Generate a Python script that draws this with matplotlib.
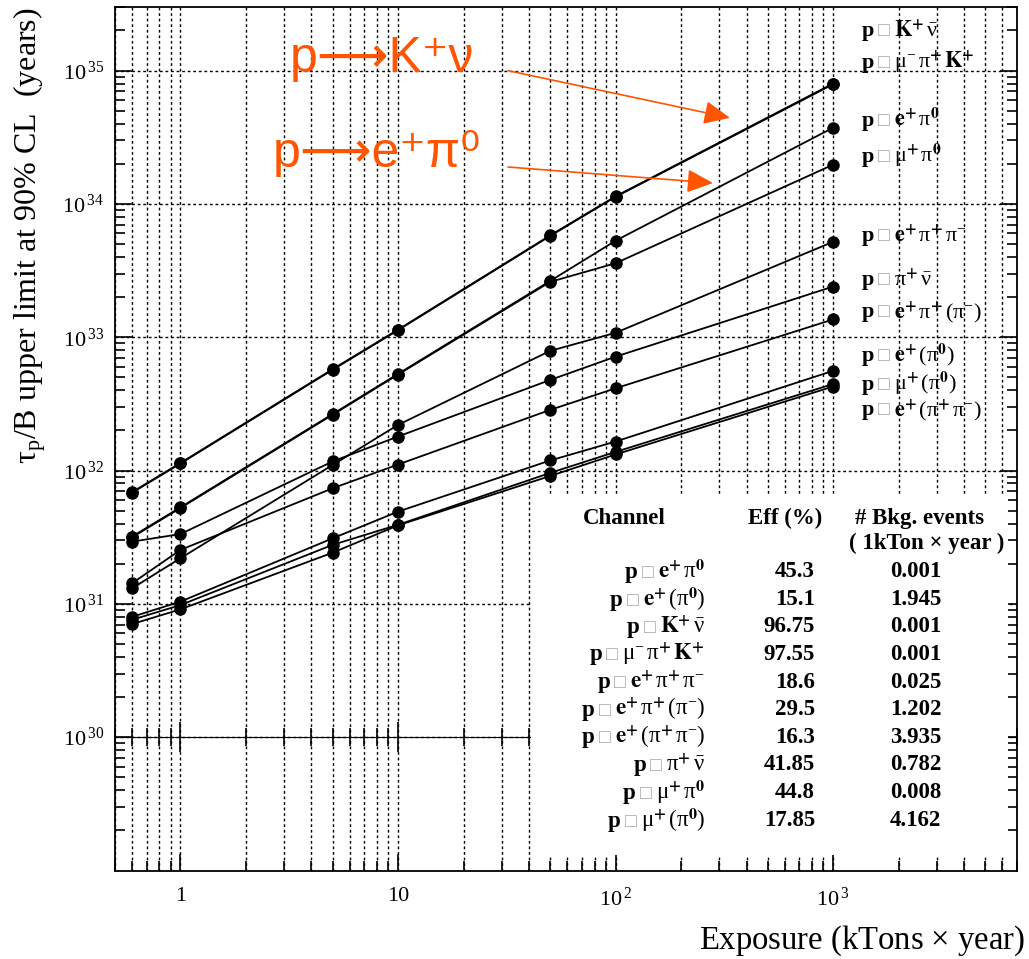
import numpy as np
import matplotlib
matplotlib.use('Agg')
import matplotlib.pyplot as plt
from matplotlib.ticker import LogLocator, NullFormatter
from matplotlib.offsetbox import TextArea, HPacker, AnnotationBbox
from matplotlib.patches import Rectangle

plt.rcParams['font.family'] = ['Liberation Serif', 'DejaVu Serif']
plt.rcParams['mathtext.fontset'] = 'stix'
plt.rcParams['mathtext.default'] = 'regular'  # greek letters upright, like the original

# exposure in kTon x year
exposure = [0.6, 1, 5, 10, 50, 100, 1000]

# 90% CL lifetime limits (years)
k_nubar = [6.83e31, 1.13e32, 5.70e32, 1.13e33, 5.75e33, 1.13e34, 7.90e34]
mu_pi_k = [6.90e31, 1.14e32, 5.75e32, 1.14e33, 5.80e33, 1.14e34, 8.00e34]
e_pi0 = [3.20e31, 5.30e31, 2.65e32, 5.31e32, 2.64e33, 5.30e33, 3.73e34]
mu_pi0 = [3.16e31, 5.24e31, 2.62e32, 5.25e32, 2.60e33, 3.59e33, 1.97e34]
e_pi_pi = [1.31e31, 2.20e31, 1.10e32, 2.20e32, 7.90e32, 1.08e33, 5.20e33]
pi_nubar = [2.93e31, 3.34e31, 1.17e32, 1.80e32, 4.78e32, 7.15e32, 2.40e33]
e_pi_xpi = [1.43e31, 2.54e31, 7.36e31, 1.11e32, 2.85e32, 4.14e32, 1.36e33]
e_xpi0 = [8.00e30, 1.04e31, 3.10e31, 4.92e31, 1.19e32, 1.65e32, 5.60e32]
mu_xpi0 = [7.60e30, 9.80e30, 2.77e31, 3.92e31, 9.60e31, 1.38e32, 4.46e32]
e_xpipi = [7.06e30, 9.10e30, 2.42e31, 3.88e31, 9.10e31, 1.32e32, 4.27e32]

# decay products written after "p -> "
name_k_nubar = r'$\mathbf{K}^{\mathbf{+}}\,\bar{\nu}$'
name_mu_pi_k = r'$\mu^{-}\,\pi^{\mathbf{+}}\,\mathbf{K}^{\mathbf{+}}$'
name_e_pi0 = r'$\mathbf{e}^{\mathbf{+}}\,\pi^{\mathbf{0}}$'
name_mu_pi0 = r'$\mu^{\mathbf{+}}\,\pi^{\mathbf{0}}$'
name_e_pi_pi = r'$\mathbf{e}^{\mathbf{+}}\,\pi^{\mathbf{+}}\,\pi^{-}$'
name_pi_nubar = r'$\pi^{\mathbf{+}}\,\bar{\nu}$'
name_e_pi_xpi = r'$\mathbf{e}^{\mathbf{+}}\,\pi^{\mathbf{+}}\,(\pi^{-})$'
name_e_xpi0 = r'$\mathbf{e}^{\mathbf{+}}\,(\pi^{\mathbf{0}})$'
name_mu_xpi0 = r'$\mu^{\mathbf{+}}\,(\pi^{\mathbf{0}})$'
name_e_xpipi = r'$\mathbf{e}^{\mathbf{+}}\,(\pi^{\mathbf{+}}\,\pi^{-})$'

series = [k_nubar, mu_pi_k, e_pi0, mu_pi0, e_pi_pi, pi_nubar, e_pi_xpi, e_xpi0, mu_xpi0, e_xpipi]
series_names = [name_k_nubar, name_mu_pi_k, name_e_pi0, name_mu_pi0, name_e_pi_pi,
                name_pi_nubar, name_e_pi_xpi, name_e_xpi0, name_mu_xpi0, name_e_xpipi]
# where the right-hand labels sit (y, years)
label_y = [2.02e35, 1.16e35, 4.3e34, 2.3e34, 5.8e33, 2.75e33, 1.55e33, 7.4e32, 4.5e32, 2.85e32]

# efficiency / background table
table_names = [name_e_pi0, name_e_xpi0, name_k_nubar, name_mu_pi_k, name_e_pi_pi,
               name_e_pi_xpi, name_e_xpipi, name_pi_nubar, name_mu_pi0, name_mu_xpi0]
table_eff = [45.3, 15.1, 96.75, 97.55, 18.6, 29.5, 16.3, 41.85, 44.8, 17.85]
table_bkg = [0.001, 1.945, 0.001, 0.001, 0.025, 1.202, 3.935, 0.782, 0.008, 4.162]

naranja = '#ff5400'

fig = plt.figure(figsize=(10.29, 9.59), dpi=100)
ax = fig.add_axes([115 / 1029, 1 - 870.5 / 959, 902 / 1029, 863.5 / 959])
ax.set_xscale('log')
ax.set_yscale('log')
ax.set_xlim(0.5, 7000)
ax.set_ylim(1e29, 3e35)

for s in series:
    ax.plot(exposure, s, color='black', lw=1.3, marker='o', ms=8, zorder=3)

# ticks and grid
ax.set_xticks([1, 10, 100, 1000], ['1', '10', r'$10^{\,2}$', r'$10^{\,3}$'])
ax.set_yticks([10.0 ** k for k in range(30, 36)],
              [r'$10^{\,%d}$' % k for k in range(30, 36)])
ax.xaxis.set_minor_locator(LogLocator(subs=np.arange(2, 10), numticks=50))
ax.yaxis.set_minor_locator(LogLocator(subs=np.arange(2, 10), numticks=50))
ax.xaxis.set_minor_formatter(NullFormatter())
ax.yaxis.set_minor_formatter(NullFormatter())
ax.tick_params(which='both', direction='in', right=True, top=False, labelsize=16, width=1.2)
ax.tick_params(which='major', length=12)
ax.tick_params(which='minor', length=7.5)
ax.tick_params(axis='x', pad=12)
ax.tick_params(axis='y', pad=8)
ax.grid(which='both', axis='x', color='black', ls=(0, (2, 2)), lw=1.0)
ax.grid(which='major', axis='y', color='black', ls=(0, (2, 2)), lw=1.0)
for sp in ax.spines.values():
    sp.set_linewidth(1.3)

# solid line at 1e30 with its own ticks
sec = ax.secondary_xaxis(1e30, transform=ax.transData)
sec.tick_params(which='both', direction='inout', labelbottom=False, labeltop=False, width=1.2)
sec.tick_params(which='major', length=22)
sec.tick_params(which='minor', length=13)
sec.xaxis.set_minor_locator(LogLocator(subs=np.arange(2, 10), numticks=50))
sec.xaxis.set_minor_formatter(NullFormatter())
sec.spines['bottom'].set_linewidth(1.0)

ax.set_ylabel(r'$\tau_{p}$/B upper limit at 90% CL  (years)', fontsize=23, loc='top')
ax.yaxis.set_label_coords(-0.074, 1.0)
ax.set_xlabel(r'Exposure (kTons $\times$ year)', fontsize=23.5, loc='right')
ax.xaxis.label.set_va('baseline')
ax.xaxis.set_label_coords(1.009, -0.091)

# labels on the right
for name, yy in zip(series_names, label_y):
    box = HPacker(children=[TextArea('p', textprops=dict(size=16, fontweight='bold')),
                            TextArea('\u25a1', textprops=dict(size=14, color='0.65')),
                            TextArea(name, textprops=dict(size=16))],
                  sep=3, align='baseline', pad=0)
    ab = AnnotationBbox(box, (0.828, yy), xycoords=('axes fraction', 'data'),
                        box_alignment=(0, 0.5), frameon=False, pad=0, zorder=5)
    ax.add_artist(ab)

# white table box
ax.add_patch(Rectangle((0.461, 0.018), 0.529, 0.417, transform=ax.transAxes,
                       facecolor='white', edgecolor='none', zorder=1.6))
ax.text(0.565, 0.408, 'Channel', transform=ax.transAxes, ha='center', va='center',
        fontsize=16.5, fontweight='bold', zorder=5)
ax.text(0.743, 0.408, 'Eff (%)', transform=ax.transAxes, ha='center', va='center',
        fontsize=16.5, fontweight='bold', zorder=5)
ax.text(0.892, 0.408, '# Bkg. events', transform=ax.transAxes, ha='center', va='center',
        fontsize=16.5, fontweight='bold', zorder=5)
ax.text(0.900, 0.379, '( 1kTon \u00d7 year )', transform=ax.transAxes, ha='center', va='center',
        fontsize=16.5, fontweight='bold', zorder=5)

fila0 = (870.5 - 571.7) / 863.5
paso = 27.6 / 863.5
for i in range(len(table_names)):
    yy = fila0 - i * paso
    box = HPacker(children=[TextArea('p', textprops=dict(size=16.5, fontweight='bold')),
                            TextArea('\u25a1', textprops=dict(size=14, color='0.65')),
                            TextArea(table_names[i], textprops=dict(size=16.5))],
                  sep=3, align='baseline', pad=0)
    ab = AnnotationBbox(box, (0.654, yy), xycoords='axes fraction',
                        box_alignment=(1, 0.5), frameon=False, pad=0, zorder=5)
    ax.add_artist(ab)
    ax.text(0.776, yy, f'{table_eff[i]:g}', transform=ax.transAxes, ha='right', va='center',
            fontsize=16.5, fontweight='bold', zorder=5)
    ax.text(0.916, yy, f'{table_bkg[i]:.3f}', transform=ax.transAxes, ha='right', va='center',
            fontsize=16.5, fontweight='bold', zorder=5)

# orange annotations (plain unicode so the font fallback can find the long arrow)
ax.text(0.194, 0.925, 'p\u27f6K\u207a\u03bd', transform=ax.transAxes,
        color=naranja, fontsize=36, family=['Liberation Sans', 'DejaVu Sans'],
        va='baseline', zorder=6)
ax.text(0.175, 0.815, 'p\u27f6e\u207a\u03c0\u2070', transform=ax.transAxes,
        color=naranja, fontsize=36, family=['Liberation Sans', 'DejaVu Sans'],
        va='baseline', zorder=6)
flecha = dict(arrowstyle='-|>,head_length=1.0,head_width=0.45', color=naranja, lw=1.2,
              mutation_scale=16, shrinkA=0, shrinkB=0)
ax.annotate('', xy=(0.6818, 0.8716), xytext=(0.4357, 0.9263), xycoords='axes fraction',
            textcoords='axes fraction', arrowprops=flecha, zorder=6)
ax.annotate('', xy=(0.663, 0.7962), xytext=(0.4357, 0.8147), xycoords='axes fraction',
            textcoords='axes fraction', arrowprops=flecha, zorder=6)

fig.savefig('out.png', dpi=100)
